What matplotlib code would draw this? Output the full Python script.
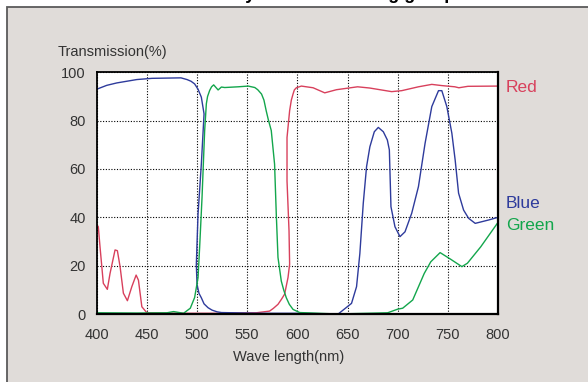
import matplotlib
matplotlib.use("Agg")
import matplotlib.pyplot as plt
from matplotlib.patches import Rectangle

# wavelength (nm) / transmission (%)
red_nm = [400, 401.6, 403.3, 406.6, 410.6, 413.3, 418.3, 420.6, 423.3, 426.6, 430.6,
          435, 439.3, 441.6, 445, 450, 480, 520, 559, 572.3, 576, 580.7, 584, 587.3,
          590.7, 592.3, 591.7, 589.7, 589.7, 592.3, 594, 595.7, 597, 599, 604, 615.7,
          627.3, 639, 660, 672, 694, 704, 720.7, 734, 744, 757, 761, 770, 800]
red_pct = [37, 36.1, 27.8, 12.7, 10.2, 16.8, 26.5, 26.2, 19.6, 8.6, 5.5,
           11.3, 16.1, 14, 3, 0.5, 0.3, 0.3, 0.5, 1.2, 2.3, 4, 6, 8.2,
           15.1, 20.6, 34.4, 55.1, 73, 84.1, 88.5, 91, 92.7, 93.6, 94.3, 93.6,
           91.5, 92.8, 94, 93.5, 92, 92.4, 94, 95, 94.5, 94, 93.6, 94.2, 94.3]

blue_nm = [400, 410, 420, 440, 455, 484, 490, 494, 497.6, 501, 504.3, 507, 504.3,
           501, 499.3, 500, 502, 504.3, 507, 511, 515, 520, 524.3, 560, 600, 640.7,
           654, 659, 662.3, 665.7, 669, 672.3, 676.7, 680.7, 685.7, 689.7, 691.7,
           693.3, 697.3, 702.3, 707.3, 714, 720.7, 727.3, 734, 740.7, 744, 749,
           754, 757.3, 760.7, 765.7, 770.7, 777.3, 790.7, 800]
blue_pct = [93, 94.6, 95.6, 97, 97.5, 97.7, 97, 96.3, 95.2, 93, 89.7, 82.8, 62,
            41.3, 20.5, 12.2, 8.5, 6.7, 4.2, 2.6, 1.6, 0.9, 0.6, 0.3, 0.3, 0,
            4.4, 11.3, 25, 45.8, 61, 69.2, 75.4, 77.2, 75.4, 72, 67.9,
            44.4, 36.1, 32, 34, 41.7, 52.7, 70.6, 85.8, 92.4, 92.4, 85.8,
            74.8, 63.7, 50, 43, 39.6, 37.5, 38.9, 40]

green_nm = [400, 440, 470, 476.6, 486.6, 493.3, 497.6, 501, 502.6, 505, 507.6,
            509.3, 510.5, 512.6, 514.5, 516.6, 521, 524.3, 527.6, 541, 551, 557.6,
            560.5, 564.3, 566.7, 569, 571, 574, 577.3, 579, 580.7, 584, 586.5, 589,
            592, 595.7, 602.3, 640, 690, 700, 705, 715, 726.5, 733, 742.3, 753,
            764, 769.5, 782.8, 800]
green_pct = [0.5, 0.4, 0.5, 1, 0.3, 2.4, 6.8, 15, 27.6, 48.3, 75.8,
             87, 90, 92.5, 94, 94.8, 92.7, 93.9, 93.7, 94, 94.3, 93.7,
             92.8, 91, 88.5, 84, 80.5, 75.9, 62, 41.3, 23.4, 13.6, 9.8, 6.7,
             4, 1.9, 0.6, 0, 0.5, 2, 2.4, 5.8, 16.8, 21.6, 25.4, 22.6,
             19.6, 21, 27.8, 37.9]

series = [("Red", red_nm, red_pct, "#d8405c", 87),
          ("Blue", blue_nm, blue_pct, "#2e3b9c", 203),
          ("Green", green_nm, green_pct, "#13a64c", 226)]

x_ticks = [400, 450, 500, 550, 600, 650, 700, 750, 800]
y_ticks = [0, 20, 40, 60, 80, 100]

plt.rcParams["font.family"] = ["Liberation Sans", "DejaVu Sans"]

W, H = 588, 382
fig = plt.figure(figsize=(W / 100, H / 100), dpi=100, facecolor="white")

# grey panel with dark border, open to the right and bottom
fig.patches.append(Rectangle((7 / W, -0.05), 1.1, 1 - 7 / H + 0.05,
                             transform=fig.transFigure, facecolor="#e0dcd9",
                             edgecolor="#5a5a5a", linewidth=1.3, zorder=-5))

# title sitting above the frame, only its descenders show
fig.text(250 / W, 1 + 1.5 / H, "Transmittance curves by dichroic coating group",
         ha="center", va="baseline", fontsize=13, fontweight="bold")

ax = fig.add_axes([96.7 / W, 1 - 314 / H, (498 - 96.7) / W, (314 - 72.3) / H])
ax.set_zorder(2)
ax.set_facecolor("white")

for name, xs, ys, col, ly in series:
    ax.plot(xs, ys, color=col, linewidth=1.0, solid_joinstyle="round")
    fig.text(506 / W, 1 - ly / H, name, color=col, fontsize=12.5,
             ha="left", va="center")

ax.set_xlim(400, 800)
ax.set_ylim(0, 100)
ax.set_xticks(x_ticks)
ax.set_yticks(y_ticks)
ax.grid(True, color="black", linestyle=(0, (1, 1.5)), linewidth=0.8)
ax.tick_params(length=0, labelsize=10.5, labelcolor="#333333")
ax.tick_params(axis="x", pad=10)
ax.tick_params(axis="y", pad=8)
for s in ax.spines.values():
    s.set_color("black")
    s.set_linewidth(1.3)
ax.spines["right"].set_linewidth(1.6)
ax.spines["bottom"].set_linewidth(1.6)

fig.text(58 / W, 1 - 52 / H, "Transmission(%)", fontsize=10.5, color="#333333",
         ha="left", va="center")
fig.text(289 / W, 1 - 357 / H, "Wave length(nm)", fontsize=10.5, color="#333333",
         ha="center", va="center")

fig.savefig("out.png", dpi=100, facecolor=fig.get_facecolor())
